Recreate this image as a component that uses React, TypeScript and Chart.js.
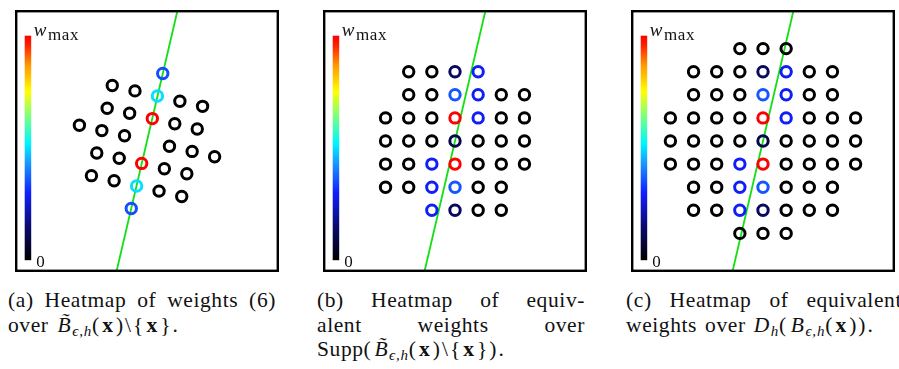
import React, { useEffect, useRef } from "react";
import { Chart, registerables } from "chart.js";

Chart.register(...registerables);

// ---------- data ----------
// Panel (a): rotated stencil points (x, y in grid-step units) and weights (0..1)
const A_X = [0.68, 0.45, 0.23, -0.23, -0.45, -0.68, -1.5, -0.52, 1.42, 2.4, -1.72, -0.75, 1.2, 2.17, -2.92, -1.95, -0.97, 0.97, 1.95, 2.92, -2.17, -1.2, 0.75, 1.72, -2.4, -1.42, 0.52, 1.5];
const A_Y = [2.92, 1.95, 0.97, -0.97, -1.95, -2.92, 2.4, 2.17, 1.72, 1.5, 1.42, 1.2, 0.75, 0.52, 0.68, 0.45, 0.23, -0.23, -0.45, -0.68, -0.52, -0.75, -1.2, -1.42, -1.5, -1.72, -2.17, -2.4];
const A_W = [0.35, 0.5, 1, 1, 0.5, 0.35, 0, 0, 0, 0, 0, 0, 0, 0, 0, 0, 0, 0, 0, 0, 0, 0, 0, 0, 0, 0, 0, 0];

// Panel (b): grid support points
const B_X = [-2, -1, 0, 1, -2, -1, 0, 1, 2, 3, -3, -2, -1, 0, 1, 2, 3, -3, -2, -1, 0, 1, 2, 3, -3, -2, -1, 0, 1, 2, 3, -3, -2, -1, 0, 1, 2, -1, 0, 1, 2];
const B_Y = [3, 3, 3, 3, 2, 2, 2, 2, 2, 2, 1, 1, 1, 1, 1, 1, 1, 0, 0, 0, 0, 0, 0, 0, -1, -1, -1, -1, -1, -1, -1, -2, -2, -2, -2, -2, -2, -3, -3, -3, -3];
const B_W = [0, 0, 0.13, 0.29, 0, 0, 0.36, 0.29, 0, 0, 0, 0, 0, 1, 0.29, 0, 0, 0, 0, 0, 0.1, 0, 0, 0, 0, 0, 0.29, 1, 0, 0, 0, 0, 0, 0.29, 0.36, 0, 0, 0.29, 0.13, 0, 0];

// Panel (c): grid D_h(B)
const C_X = [-1, 0, 1, -3, -2, -1, 0, 1, 2, 3, -3, -2, -1, 0, 1, 2, 3, -4, -3, -2, -1, 0, 1, 2, 3, 4, -4, -3, -2, -1, 0, 1, 2, 3, 4, -4, -3, -2, -1, 0, 1, 2, 3, 4, -3, -2, -1, 0, 1, 2, 3, -3, -2, -1, 0, 1, 2, 3, -1, 0, 1];
const C_Y = [4, 4, 4, 3, 3, 3, 3, 3, 3, 3, 2, 2, 2, 2, 2, 2, 2, 1, 1, 1, 1, 1, 1, 1, 1, 1, 0, 0, 0, 0, 0, 0, 0, 0, 0, -1, -1, -1, -1, -1, -1, -1, -1, -1, -2, -2, -2, -2, -2, -2, -2, -3, -3, -3, -3, -3, -3, -3, -4, -4, -4];
const C_W = [0, 0, 0, 0, 0, 0, 0.13, 0.29, 0, 0, 0, 0, 0, 0.36, 0.29, 0, 0, 0, 0, 0, 0, 1, 0.29, 0, 0, 0, 0, 0, 0, 0, 0.1, 0, 0, 0, 0, 0, 0, 0, 0.29, 1, 0, 0, 0, 0, 0, 0, 0.29, 0.36, 0, 0, 0, 0, 0, 0.29, 0.13, 0, 0, 0, 0, 0, 0];

// Green line through x
const LINE_X = [-1.31, 1.31];
const LINE_Y = [-5.62, 5.62];

const CBAR_LABEL_TOP = ["w", "max"];
const CBAR_LABEL_BOTTOM = "0";

// ---------- styles ----------
const CMAP: [number, number[]][] = [
  [0, [0, 0, 0]],
  [0.15, [10, 10, 110]],
  [0.3, [16, 32, 255]],
  [0.42, [26, 140, 255]],
  [0.52, [0, 245, 255]],
  [0.63, [110, 255, 140]],
  [0.75, [255, 255, 0]],
  [0.87, [255, 150, 0]],
  [0.96, [255, 30, 0]],
  [1, [255, 0, 0]],
];
function cmap(t: number): string {
  for (let i = 1; i < CMAP.length; i++) {
    const [t1, c1] = CMAP[i];
    const [t0, c0] = CMAP[i - 1];
    if (t <= t1) {
      const f = (t - t0) / (t1 - t0 || 1);
      const c = c0.map((v, k) => Math.round(v + (c1[k] - v) * f));
      return `rgb(${c[0]},${c[1]},${c[2]})`;
    }
  }
  return "rgb(255,0,0)";
}

const SERIF = '"Liberation Serif", "DejaVu Serif", serif';
const XR = 5.65;
const YR = 5.62;

const panelPlugin = {
  id: "panelDecor",
  afterDraw(chart: any) {
    const { ctx, chartArea } = chart;
    const { left, top, right, bottom } = chartArea;
    ctx.save();
    // colorbar
    const cx = left + 8.5;
    const cw = 6.5;
    const cTop = top + 24.5;
    const cBot = top + 249;
    const g = ctx.createLinearGradient(0, cBot, 0, cTop);
    CMAP.forEach(([t, c]) => g.addColorStop(t, `rgb(${c[0]},${c[1]},${c[2]})`));
    ctx.fillStyle = g;
    ctx.fillRect(cx, cTop, cw, cBot - cTop);
    // labels
    ctx.fillStyle = "#111";
    ctx.textBaseline = "alphabetic";
    ctx.textAlign = "left";
    ctx.font = `italic 19px ${SERIF}`;
    ctx.fillText(CBAR_LABEL_TOP[0], cx + cw + 2.5, cTop + 0.5);
    const ww = ctx.measureText(CBAR_LABEL_TOP[0]).width;
    ctx.font = `17px ${SERIF}`;
    ctx.fillText(CBAR_LABEL_TOP[1], cx + cw + 3.5 + ww, cTop + 4);
    ctx.font = `17px ${SERIF}`;
    ctx.fillText(CBAR_LABEL_BOTTOM, cx + cw + 5, cBot + 6.5);
    // frame
    ctx.strokeStyle = "#000";
    ctx.lineWidth = 2.4;
    ctx.strokeRect(left, top, right - left, bottom - top);
    ctx.restore();
  },
};

function Panel({ xs, ys, ws, left }: { xs: number[]; ys: number[]; ws: number[]; left: number }) {
  const ref = useRef<HTMLCanvasElement | null>(null);
  useEffect(() => {
    if (!ref.current) return;
    const pts = xs.map((x, i) => ({ x, y: ys[i] }));
    const colors = ws.map((w) => cmap(w));
    const chart = new Chart(ref.current, {
      type: "scatter",
      data: {
        datasets: [
          {
            data: pts,
            showLine: false,
            pointRadius: 5.2,
            pointBorderWidth: 3,
            pointBorderColor: colors,
            pointBackgroundColor: "rgba(0,0,0,0)",
            pointHoverRadius: 5.2,
          } as any,
          {
            type: "line",
            data: LINE_X.map((x, i) => ({ x, y: LINE_Y[i] })),
            borderColor: "#12e012",
            borderWidth: 1.8,
            pointRadius: 0,
            showLine: true,
            fill: false,
          } as any,
        ],
      },
      options: {
        animation: false,
        responsive: false,
        devicePixelRatio: 1,
        layout: { padding: 2 },
        plugins: { legend: { display: false }, tooltip: { enabled: false } },
        events: [],
        scales: {
          x: { type: "linear", min: -XR, max: XR, display: false },
          y: { type: "linear", min: -YR, max: YR, display: false },
        },
      },
      plugins: [panelPlugin],
    });
    return () => chart.destroy();
  }, []);
  return (
    <canvas
      ref={ref}
      width={278}
      height={276}
      style={{ position: "absolute", left, top: 3, width: 278, height: 276 }}
    />
  );
}

const sub = (s: string) => (
  <span style={{ fontSize: 15, fontStyle: "italic", position: "relative", top: 4, letterSpacing: "0.8px", marginLeft: 1 }}>{s}</span>
);
const Bt = (tilde: boolean) => (
  <span style={{ fontStyle: "italic", marginLeft: 3 }}>{tilde ? "B\u0303" : "B"}</span>
);
const bx = <b style={{ margin: "0 1px" }}>x</b>;

const LH = 24.5;
const lineStyle: React.CSSProperties = { height: LH, lineHeight: `${LH}px`, whiteSpace: "nowrap" };
const just: React.CSSProperties = { height: LH, lineHeight: `${LH}px`, textAlign: "justify", textAlignLast: "justify" as any };

export default function App() {
  return (
    <div
      style={{
        position: "absolute",
        left: 0,
        top: 0,
        width: 899,
        height: 369,
        overflow: "hidden",
        background: "#fff",
        fontFamily: SERIF,
        fontSize: 21.5,
        letterSpacing: "0.6px",
        color: "#111",
      }}
    >
      <Panel xs={A_X} ys={A_Y} ws={A_W} left={8} />
      <Panel xs={B_X} ys={B_Y} ws={B_W} left={316} />
      <Panel xs={C_X} ys={C_Y} ws={C_W} left={624} />

      <div style={{ position: "absolute", left: 8, top: 288, width: 268 }}>
        <div style={just}>(a) Heatmap of weights (6)</div>
        <div style={lineStyle}>
          over {Bt(true)}
          {sub("ϵ,h")}
          <span style={{ letterSpacing: "2px" }}>
            ({bx})\{"{"}
            {bx}
            {"}"}.
          </span>
        </div>
      </div>

      <div style={{ position: "absolute", left: 317, top: 288, width: 268 }}>
        <div style={just}>(b) Heatmap of equiv-</div>
        <div style={just}>alent weights over</div>
        <div style={lineStyle}>
          Supp({Bt(true)}
          {sub("ϵ,h")}
          <span style={{ letterSpacing: "2px" }}>
            ({bx})\{"{"}
            {bx}
            {"}"}).
          </span>
        </div>
      </div>

      <div style={{ position: "absolute", left: 626, top: 288, width: 276 }}>
        <div style={just}>(c) Heatmap of equivalent</div>
        <div style={{ ...lineStyle, wordSpacing: "2px" }}>
          weights over <i>D</i>
          {sub("h")}
          <span style={{ letterSpacing: "1.5px" }}>(</span>
          {Bt(false)}
          {sub("ϵ,h")}
          <span style={{ letterSpacing: "2px" }}>({bx})).</span>
        </div>
      </div>
    </div>
  );
}
